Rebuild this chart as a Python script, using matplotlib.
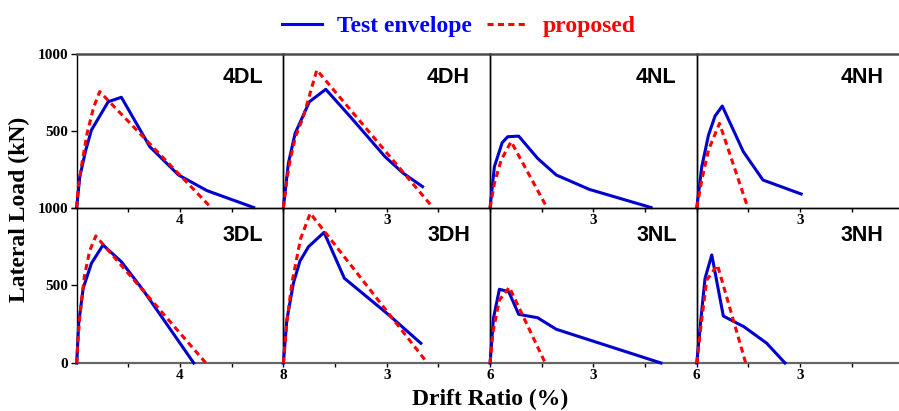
import numpy as np
import matplotlib.pyplot as plt
from matplotlib.lines import Line2D

# envelope data: drift ratio (%) vs lateral load (kN)
dl4_test_x = [0, 0.12, 0.35, 0.57, 1.22, 1.73, 2.83, 3.94, 5.04, 6.85]
dl4_test_y = [0, 200, 373, 504, 689, 718, 396, 212, 110, 0]
dl4_prop_x = [0, 0.05, 0.18, 0.4, 0.65, 0.89, 5.2]
dl4_prop_y = [0, 120, 265, 480, 650, 755, 0]

dh4_test_x = [0, 0.145, 0.34, 0.755, 1.23, 1.94, 2.95, 3.48, 4.04]
dh4_test_y = [0, 288, 483, 689, 770, 592, 331, 223, 136]
dh4_prop_x = [0, 0.1, 0.195, 0.35, 0.58, 0.97, 4.34]
dh4_prop_y = [0, 180, 309, 460, 592, 896, 0]

nl4_test_x = [0, 0.125, 0.35, 0.51, 0.83, 1.38, 1.92, 2.88, 4.67]
nl4_test_y = [0, 266, 422, 461, 465, 320, 212, 118, 0]
nl4_prop_x = [0, 0.125, 0.32, 0.61, 1.65]
nl4_prop_y = [0, 158, 309, 429, 0]

nh4_test_x = [0, 0.145, 0.34, 0.53, 0.74, 1.35, 1.92, 3.03]
nh4_test_y = [0, 266, 472, 596, 661, 364, 179, 88]
nh4_prop_x = [0, 0.145, 0.34, 0.66, 1.48]
nh4_prop_y = [0, 179, 375, 548, 0]

dl3_test_x = [0, 0.08, 0.25, 0.57, 1.02, 1.73, 2.57, 4.53]
dl3_test_y = [0, 256, 480, 641, 759, 651, 469, 0]
dl3_prop_x = [0, 0.05, 0.12, 0.3, 0.5, 0.74, 5.0]
dl3_prop_y = [0, 150, 298, 560, 720, 817, 0]

dh3_test_x = [0, 0.1, 0.29, 0.48, 0.73, 1.18, 1.77, 3.06, 3.99]
dh3_test_y = [0, 276, 513, 655, 748, 840, 545, 309, 127]
dh3_prop_x = [0, 0.1, 0.245, 0.5, 0.78, 4.18]
dh3_prop_y = [0, 260, 513, 800, 963, 0]

nl3_test_x = [0, 0.097, 0.27, 0.54, 0.83, 1.38, 1.92, 4.96]
nl3_test_y = [0, 287, 474, 459, 313, 291, 217, 0]
nl3_prop_x = [0, 0.077, 0.27, 0.56, 1.6]
nl3_prop_y = [0, 191, 405, 487, 0]

nh3_test_x = [0, 0.116, 0.24, 0.435, 0.77, 1.37, 2.03, 2.56]
nh3_test_y = [0, 276, 545, 695, 302, 233, 127, 0]
nh3_prop_x = [0, 0.116, 0.29, 0.6, 1.42]
nh3_prop_y = [0, 232, 534, 630, 0]

panel_names = [['4DL', '4DH', '4NL', '4NH'],
               ['3DL', '3DH', '3NL', '3NH']]
panel_data = {
    '4DL': (dl4_test_x, dl4_test_y, dl4_prop_x, dl4_prop_y),
    '4DH': (dh4_test_x, dh4_test_y, dh4_prop_x, dh4_prop_y),
    '4NL': (nl4_test_x, nl4_test_y, nl4_prop_x, nl4_prop_y),
    '4NH': (nh4_test_x, nh4_test_y, nh4_prop_x, nh4_prop_y),
    '3DL': (dl3_test_x, dl3_test_y, dl3_prop_x, dl3_prop_y),
    '3DH': (dh3_test_x, dh3_test_y, dh3_prop_x, dh3_prop_y),
    '3NL': (nl3_test_x, nl3_test_y, nl3_prop_x, nl3_prop_y),
    '3NH': (nh3_test_x, nh3_test_y, nh3_prop_x, nh3_prop_y),
}

legend_labels = ['Test envelope', 'proposed']

plt.rcParams['font.family'] = 'Liberation Serif'
plt.rcParams['font.weight'] = 'bold'

BLUE = '#0000cd'
RED = '#ff0000'
DASH = (0, (2.0, 1.4))

fig, axes = plt.subplots(2, 4, figsize=(8.99, 4.11), dpi=100,
                         gridspec_kw=dict(wspace=0, hspace=0,
                                          height_ratios=[153.5, 155.5]))
fig.subplots_adjust(left=0.0853, right=1.005, top=0.8686, bottom=0.1168)

for r in range(2):
    for c in range(4):
        ax = axes[r, c]
        name = panel_names[r][c]
        tx, ty, px, py = panel_data[name]
        ax.set_facecolor('none')

        ax.plot(tx, ty, color=BLUE, lw=2.2, clip_on=False, zorder=3)
        ax.plot(px, py, color=RED, lw=2.2, ls=DASH, clip_on=False, zorder=4)

        ax.set_ylim(0, 1000)
        # the right-end label sits under the next panel's origin
        show_end = (r == 1 and c < 3)
        if c == 0:
            ax.set_xlim(0, 8)
            ax.set_xticks([2, 4, 6, 8])
            ax.set_xticklabels(['', '4', '', '8' if show_end else ''])
            ax.set_yticks([0, 500, 1000])
            ax.set_yticklabels(['' if r == 0 else '0', '500', '1000'])
            ax.tick_params(axis='y', direction='out', length=4, width=1,
                           labelsize=11, pad=2)
        else:
            ax.set_xlim(0, 6)
            ax.set_xticks([1.5, 3, 4.5, 6])
            ax.set_xticklabels(['', '3', '', '6' if show_end else ''])
            ax.set_yticks([])
        ax.tick_params(axis='x', direction='out', length=3, width=1,
                       labelsize=11, pad=1.5)

        for s in ax.spines.values():
            s.set_color('black')
            s.set_linewidth(1.0)
        if r == 0:
            ax.spines['top'].set_color('0.3')
            ax.spines['top'].set_linewidth(1.8)
        else:
            ax.spines['bottom'].set_color('0.4')
            ax.spines['bottom'].set_linewidth(1.6)

        ax.text(0.903, 0.844 if r == 0 else 0.817, name, transform=ax.transAxes,
                ha='right', va='center', fontsize=15.5,
                fontfamily='Liberation Sans', fontweight='bold')

handles = [Line2D([], [], color='blue', lw=2.2),
           Line2D([], [], color='red', lw=2.2, ls=DASH)]
leg = fig.legend(handles, legend_labels, loc='center',
                 bbox_to_anchor=(0.51, 0.935), ncol=2, frameon=False,
                 fontsize=17, handlelength=1.7, handletextpad=0.64,
                 columnspacing=0.64)
for txt, col in zip(leg.get_texts(), ['blue', 'red']):
    txt.set_color(col)

fig.text(0.022, 0.490, 'Lateral Load (kN)', rotation=90,
         ha='center', va='center', fontsize=17)
fig.text(0.545, 0.027, 'Drift Ratio (%)', ha='center', va='center', fontsize=17)

fig.savefig('out.png', dpi=100)
